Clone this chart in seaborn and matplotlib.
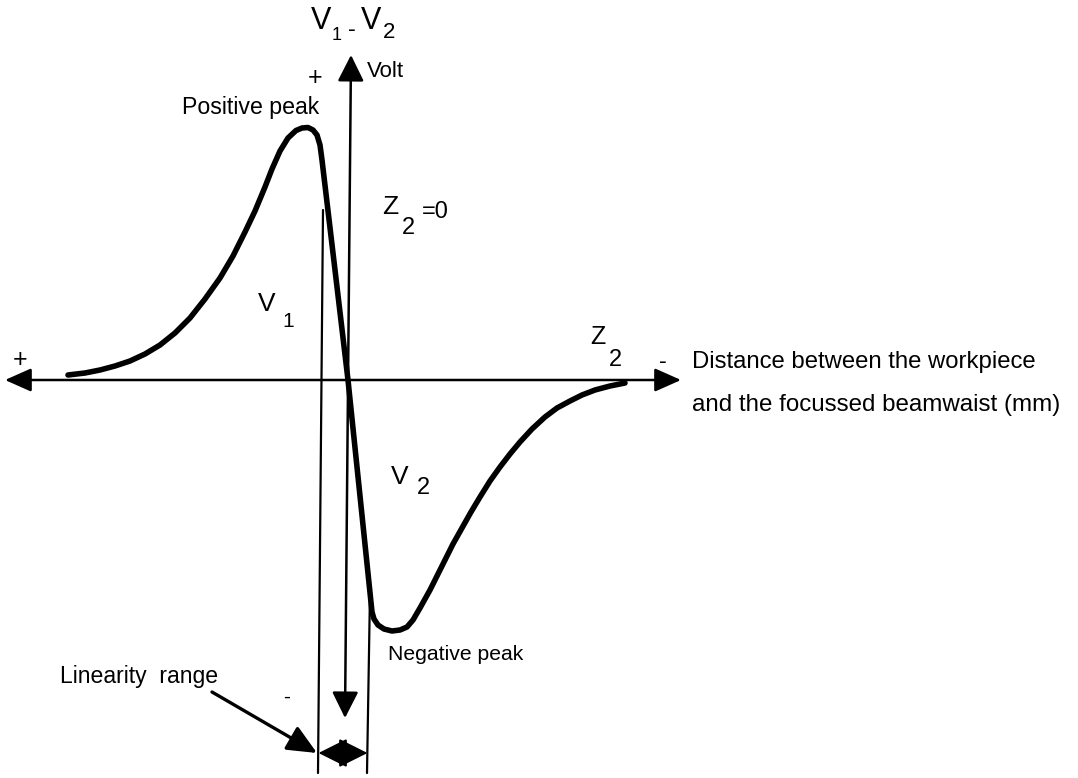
import matplotlib
matplotlib.use('Agg')
import matplotlib.pyplot as plt
import seaborn as sns
import pandas as pd

# V1 - V2 signal against the workpiece / beamwaist distance (schematic units)
distance = [-5.60, -5.26, -4.96, -4.66, -4.36, -4.06, -3.76, -3.46, -3.16, -2.86,
            -2.56, -2.30, -2.06, -1.86, -1.66, -1.52, -1.36, -1.20, -1.04, -0.92,
            -0.80, -0.70, -0.62, -0.56, -0.52, 0.00, 0.48, 0.52, 0.60, 0.72,
            0.88, 1.04, 1.18, 1.30, 1.44, 1.64, 1.78, 1.94, 2.10, 2.28,
            2.46, 2.64, 2.84, 3.04, 3.24, 3.44, 3.68, 3.94, 4.18, 4.44,
            4.68, 4.94, 5.24, 5.54]
voltage = [0.10, 0.14, 0.20, 0.28, 0.38, 0.52, 0.70, 0.94, 1.24, 1.62,
           2.04, 2.48, 2.96, 3.38, 3.86, 4.22, 4.58, 4.84, 4.99, 5.04,
           5.05, 5.00, 4.90, 4.70, 4.40, 0.00, -4.64, -4.78, -4.90, -4.98,
           -5.02, -5.00, -4.94, -4.80, -4.56, -4.20, -3.92, -3.60, -3.28, -2.96,
           -2.64, -2.34, -2.02, -1.74, -1.48, -1.24, -0.98, -0.74, -0.56, -0.42,
           -0.30, -0.20, -0.12, -0.06]

# edges of the linearity range on the distance axis
lin_left = -0.55
lin_right = 0.41

df = pd.DataFrame({'distance': distance, 'voltage': voltage})

sns.set_theme(style='white')
plt.rcParams['font.family'] = ['Liberation Sans', 'DejaVu Sans']

fig = plt.figure(figsize=(10.78, 7.78), dpi=100)
ax = fig.add_axes([0, 0, 1, 1])

# page position (pixels) -> data units, origin where the axes cross
X0, Y0, S = 348, 380, 50


def P(px, py):
    return ((px - X0) / S, (Y0 - py) / S)


ax.set_xlim(P(0, 0)[0], P(1078, 0)[0])
ax.set_ylim(P(0, 778)[1], P(0, 0)[1])
ax.set_axis_off()

sns.lineplot(data=df, x='distance', y='voltage', sort=False, estimator=None,
             color='black', linewidth=4.0, ax=ax,
             solid_joinstyle='round', solid_capstyle='round')


def arrow(start, end, style='-|>', ms=18, lw=1.8, hl=0.9, hw=0.4):
    ax.annotate('', xy=end, xytext=start,
                arrowprops=dict(arrowstyle=f'{style},head_length={hl},head_width={hw}',
                                mutation_scale=ms, lw=lw, color='black',
                                shrinkA=0, shrinkB=0))


# axes
arrow(P(5, 380), P(681, 380), style='<|-|>')
arrow(P(345, 718), P(351, 55), style='<|-|>', hw=0.45)

# linearity range lines
ax.plot([lin_left + 0.05, lin_left - 0.05], [3.40, P(0, 773)[1]], color='black', lw=1.6)
ax.plot([lin_right + 0.03, lin_right - 0.03], [-4.24, P(0, 773)[1]], color='black', lw=1.6)
ymid = P(0, 753)[1]
xm = (lin_left + lin_right) / 2
arrow((xm, ymid), (lin_left - 0.04, ymid), ms=18, lw=1.5, hl=1.0, hw=0.5)
arrow((xm, ymid), (lin_right - 0.02, ymid), ms=18, lw=1.5, hl=1.0, hw=0.5)
arrow(P(212, 692), P(317, 753), ms=18, lw=2.4, hl=1.0, hw=0.45)


# labels
def txt(px, py, s, size, ha='center'):
    ax.text(*P(px, py), s, fontsize=size, ha=ha, va='center', color='black')


txt(321, 21, 'V', 22)
txt(337, 36, '1', 13)
txt(352, 30, '-', 17)
txt(371, 21, 'V', 22)
txt(389, 33, '2', 16)
txt(315, 78, '+', 18)
txt(367, 72, 'Volt', 16, ha='left')
txt(182, 108, 'Positive peak', 16.7, ha='left')
txt(390, 207, 'Z', 19)
txt(408, 228, '2', 17)
txt(422, 212, '=0', 17, ha='left')
txt(267, 304, 'V', 19)
txt(288, 322, '1', 15)
txt(400, 477, 'V', 19)
txt(423, 488, '2', 17)
txt(20, 360, '+', 18)
txt(598, 337, 'Z', 18)
txt(615, 360, '2', 17)
txt(663, 362, '-', 17)
txt(692, 362, 'Distance between the workpiece', 17.2, ha='left')
txt(692, 405, 'and the focussed beamwaist (mm)', 17.4, ha='left')
txt(60, 677, 'Linearity  range', 16.6, ha='left')
txt(388, 655, 'Negative peak', 15.2, ha='left')
txt(287, 697, '-', 15)

fig.savefig('out.png', dpi=100)
